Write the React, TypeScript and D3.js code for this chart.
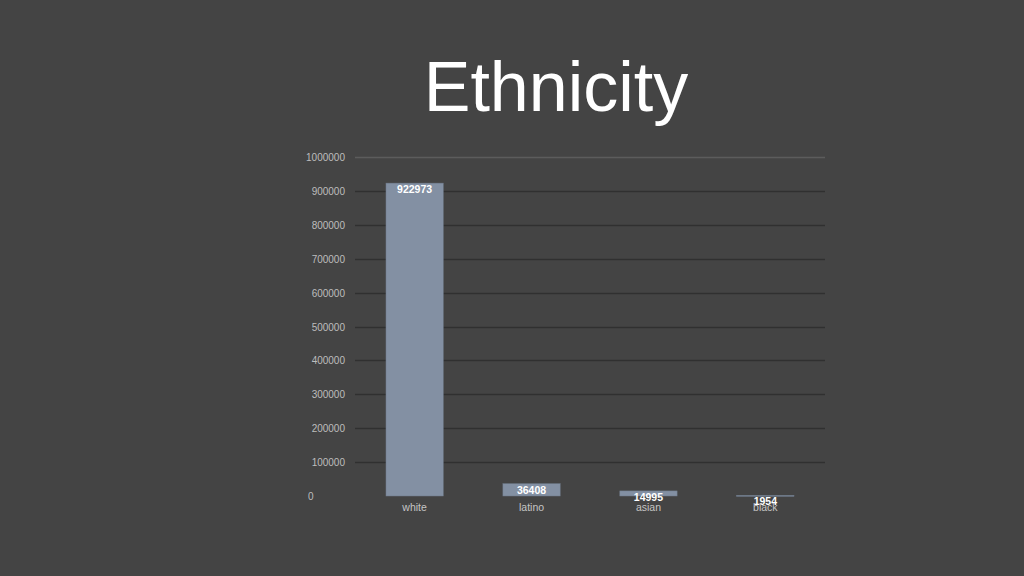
import React from 'react';
import * as d3 from 'd3';

const categories = ['white', 'latino', 'asian', 'black'];
const values = [922973, 36408, 14995, 1954];
const yTickValues = [0, 100000, 200000, 300000, 400000, 500000, 600000, 700000, 800000, 900000, 1000000];

const W = 1024;
const H = 576;
const plot = { left: 355, right: 825, top: 157, bottom: 496 };

export default function App() {
  const x = d3.scaleBand<string>().domain(categories).range([plot.left, plot.right]).paddingInner(0.51).paddingOuter(0.265);
  const y = d3.scaleLinear().domain([0, 1000000]).range([plot.bottom, plot.top]);

  return (
    <svg
      width={W}
      height={H}
      style={{ position: 'absolute', left: 0, top: 0, display: 'block' }}
      fontFamily="'Liberation Sans', Arial, sans-serif"
    >
      <rect width={W} height={H} fill="#444444" />
      <text x={556} y={111} textAnchor="middle" fill="#ffffff" fontSize={70}>
        Ethnicity
      </text>

      {/* grid + y labels */}
      {yTickValues.map((t) => (
        <g key={t}>
          {t > 0 && (
            <line
              x1={plot.left}
              x2={plot.right}
              y1={Math.round(y(t)) + 0.5}
              y2={Math.round(y(t)) + 0.5}
              stroke={t === 1000000 ? '#5c5c5c' : '#303030'}
              strokeWidth={1.5}
            />
          )}
          <text x={t === 0 ? 308 : 345} y={y(t) + 4} textAnchor={t === 0 ? 'start' : 'end'} fill="#bdbdbd" fontSize={10}>
            {t}
          </text>
        </g>
      ))}

      {/* bars */}
      {categories.map((c, i) => (
        <g key={c}>
          <rect
            x={x(c)}
            y={y(values[i])}
            width={x.bandwidth()}
            height={Math.max(plot.bottom - y(values[i]), 1)}
            fill="#8390a3"
            stroke="#6f7a8a"
            strokeWidth={0.5}
          />
          <text
            x={(x(c) ?? 0) + x.bandwidth() / 2}
            y={y(values[i]) + 10}
            textAnchor="middle"
            fill="#ffffff"
            fontSize={10.5}
            fontWeight="bold"
          >
            {values[i]}
          </text>
          <text
            x={(x(c) ?? 0) + x.bandwidth() / 2}
            y={511}
            textAnchor="middle"
            fill="#c4c4c4"
            fontSize={10.5}
          >
            {c}
          </text>
        </g>
      ))}
    </svg>
  );
}
